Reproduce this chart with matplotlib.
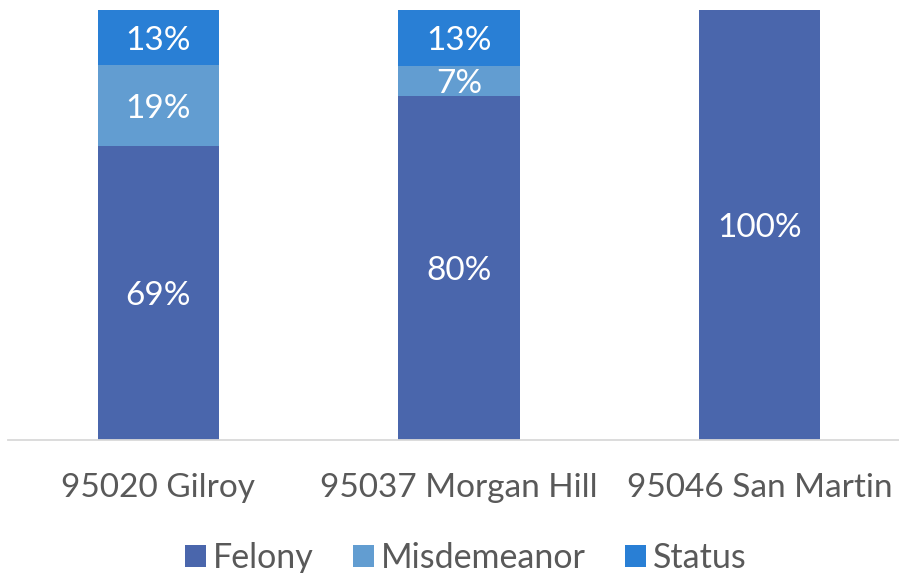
import matplotlib
matplotlib.use("Agg")
import matplotlib.pyplot as plt
import numpy as np

# Share of offense types by ZIP code (percent labels as reported)
regions = ["95020 Gilroy", "95037 Morgan Hill", "95046 San Martin"]
series_names = ["Felony", "Misdemeanor", "Status"]
felony = [69, 80, 100]
misdemeanor = [19, 7, 0]
status = [13, 13, 0]
colors = ["#4A66AC", "#629DD1", "#297FD5"]

plt.rcParams["font.family"] = ["Lato", "DejaVu Sans"]

fig = plt.figure(figsize=(8.99, 5.73), dpi=100)
ax = fig.add_axes([8 / 899, 133 / 573, 902 / 899, 430 / 573])

values = np.array([felony, misdemeanor, status], dtype=float)
totals = values.sum(axis=0)
shares = values / totals * 100  # 100% stacked

x = np.arange(len(regions))
bottom = np.zeros(len(regions))
handles = []
for i, name in enumerate(series_names):
    bars = ax.bar(x, shares[i], width=0.403, bottom=bottom, color=colors[i],
                  label=name, linewidth=0)
    handles.append(bars)
    for j in range(len(regions)):
        if values[i, j] > 0:
            ax.text(x[j], bottom[j] + shares[i, j] / 2, f"{int(values[i, j])}%",
                    ha="center", va="center_baseline", color="white", fontsize=24)
    bottom += shares[i]

ax.set_xlim(-0.5, 2.5)
ax.set_ylim(0, 100)
ax.set_yticks([])
ax.set_xticks(x)
ax.set_xticklabels(regions, fontsize=24, color="#595959")
ax.tick_params(axis="x", length=0, pad=24)
for side in ["left", "right", "top"]:
    ax.spines[side].set_visible(False)
ax.spines["bottom"].set_color("#D9D9D9")
ax.spines["bottom"].set_linewidth(1.3)

leg = fig.legend(handles=handles, labels=series_names, loc="center",
                 bbox_to_anchor=(466 / 899, 1 - 558 / 573), ncol=3, frameon=False,
                 fontsize=24.5, handlelength=0.62, handleheight=0.62,
                 handletextpad=0.2, columnspacing=1.15, borderaxespad=0)
for t in leg.get_texts():
    t.set_color("#595959")

fig.savefig("out.png", dpi=100)
